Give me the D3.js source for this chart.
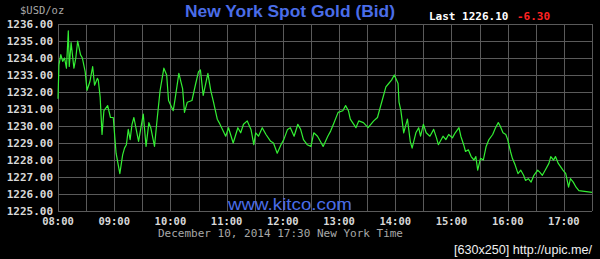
<!DOCTYPE html>
<html><head><meta charset="utf-8">
<script src="https://cdn.jsdelivr.net/npm/d3@7"></script>
<style>
html,body{margin:0;padding:0;background:#000;}
svg{display:block;}
</style></head>
<body>
<svg id="c" width="600" height="259"></svg>
<script>
const times = ["08:00","08:01","08:03","08:05","08:07","08:09","08:11","08:12","08:14","08:17","08:19","08:21","08:24","08:26","08:29","08:31","08:34","08:37","08:39","08:42","08:43","08:45","08:47","08:49","08:53","08:56","08:59",
"09:02","09:06","09:09","09:11","09:13","09:15","09:17","09:19","09:21","09:26","09:31","09:34","09:37","09:39","09:43","09:46","09:49","09:53","09:56","09:58",
"10:03","10:05","10:09","10:13","10:15","10:18","10:23","10:27","10:30","10:32","10:35","10:40","10:43","10:46","10:50","10:52","10:59",
"11:02","11:07","11:12","11:15","11:18","11:22","11:26","11:29","11:31","11:34","11:38","11:42","11:47","11:50","11:54","11:58",
"12:01","12:05","12:08","12:12","12:16","12:19","12:22","12:26","12:30","12:33","12:37","12:40","12:43","12:48","12:51","12:54","12:59",
"13:04","13:07","13:10","13:12","13:18","13:21","13:26","13:31","13:37","13:41","13:46","13:50","13:53","13:56","13:59",
"14:03","14:04","14:06","14:09","14:13","14:16","14:18","14:22","14:25","14:27","14:30","14:33","14:37","14:41","14:44","14:46","14:51","14:54","14:57",
"15:01","15:04","15:08","15:10","15:13","15:15","15:18","15:21","15:24","15:26","15:28","15:31","15:34","15:37","15:40","15:44","15:47","15:50","15:52","15:55","15:58",
"16:00","16:03","16:05","16:08","16:11","16:14","16:17","16:19","16:22","16:25","16:28","16:32","16:34","16:37","16:40","16:44","16:46","16:49","16:51","16:54","16:59",
"17:02","17:05","17:07","17:10","17:13","17:16","17:30"];
const prices = [1231.6,1233.6,1234.2,1233.8,1234.0,1233.4,1235.6,1233.5,1234.9,1233.4,1234.0,1235.0,1234.2,1234.0,1233.2,1232.1,1232.6,1233.5,1232.4,1232.8,1232.7,1231.7,1229.5,1230.9,1231.2,1230.5,1230.5,
1228.4,1227.2,1228.3,1228.7,1228.9,1229.8,1229.2,1230.1,1230.5,1229.1,1230.7,1228.8,1230.2,1229.9,1228.8,1230.5,1232.1,1233.4,1233.0,1231.5,
1230.9,1231.6,1233.1,1232.2,1230.8,1231.4,1231.5,1232.5,1233.2,1233.3,1231.8,1233.1,1232.1,1231.4,1230.4,1230.2,1229.4,
1229.9,1229.0,1229.9,1229.6,1230.1,1230.3,1229.8,1228.9,1229.6,1229.4,1229.9,1229.5,1229.1,1229.0,1228.4,1228.9,
1229.2,1229.8,1229.9,1229.4,1230.1,1229.8,1229.2,1228.9,1228.8,1229.6,1229.4,1229.1,1228.8,1229.4,1229.7,1230.1,1230.8,
1230.9,1231.2,1230.9,1230.4,1229.9,1230.3,1230.2,1229.9,1230.3,1230.5,1231.5,1232.3,1232.5,1232.7,1233.0,
1232.5,1231.4,1230.9,1229.6,1230.4,1229.1,1228.7,1229.6,1229.9,1229.4,1230.1,1229.6,1229.4,1229.8,1229.3,1228.9,1229.4,1229.2,1229.5,
1229.3,1229.6,1229.9,1229.4,1228.9,1228.5,1228.6,1228.2,1228.0,1228.2,1227.4,1228.1,1228.0,1228.8,1229.2,1229.5,1229.9,1230.2,1230.0,1229.6,1229.5,
1229.2,1228.5,1228.1,1227.7,1227.2,1227.4,1227.1,1226.8,1226.9,1226.7,1227.1,1227.4,1227.3,1227.1,1227.4,1227.8,1228.2,1228.0,1228.2,1227.8,1227.4,
1227.2,1226.4,1226.9,1226.7,1226.4,1226.2,1226.1];
const yTicks = [1225,1226,1227,1228,1229,1230,1231,1232,1233,1234,1235,1236];
const hourLabels = ["08:00","09:00","10:00","11:00","12:00","13:00","14:00","15:00","16:00","17:00"];
const domainTimes = ["08:00","17:30"];
const titleText = "New York Spot Gold (Bid)";
const unitText = "$USD/oz";
const lastText = "Last 1226.10";
const changeText = "-6.30";
const dateText = "December 10, 2014 17:30 New York Time";
const siteText = "www.kitco.com";
const stampText = "[630x250] http://upic.me/";

const parse = s => d3.timeParse("%Y-%m-%d %H:%M")("2014-12-10 " + s);
const data = times.map((t,i)=>({t:parse(t), v:prices[i]}));

const svg = d3.select("#c");
svg.append("rect").attr("width",600).attr("height",259).attr("fill","#000");

const x = d3.scaleTime().domain(domainTimes.map(parse)).range([58,592]);
const y = d3.scaleLinear().domain([1225,1236]).range([211,24]);

const mono = "'DejaVu Sans Mono', 'Liberation Mono', monospace";
const grid = svg.append("g").attr("shape-rendering","crispEdges");
const halfHours = d3.timeMinute.every(30).range(parse("08:00"), d3.timeMinute.offset(parse("17:30"),1));
grid.selectAll("line.v").data(halfHours).join("line")
  .attr("x1",d=>Math.round(x(d))+0.5).attr("x2",d=>Math.round(x(d))+0.5)
  .attr("y1",y(1236)).attr("y2",y(1225))
  .attr("stroke","#5a5a5a").attr("stroke-width",1);
grid.selectAll("line.h").data(yTicks).join("line")
  .attr("x1",x(parse("08:00"))).attr("x2",x(parse("17:30")))
  .attr("y1",d=>Math.round(y(d))+0.5).attr("y2",d=>Math.round(y(d))+0.5)
  .attr("stroke","#5a5a5a").attr("stroke-width",1);

// y labels
svg.append("g").selectAll("text").data(yTicks).join("text")
  .attr("x",53).attr("y",d=>y(d)+4)
  .attr("text-anchor","end")
  .attr("font-family",mono).attr("font-weight","bold").attr("font-size",11)
  .attr("fill","#d8d8d8")
  .text(d=>d3.format(".2f")(d));

// x labels
svg.append("g").selectAll("text").data(hourLabels).join("text")
  .attr("x",d=>x(parse(d))).attr("y",224.5)
  .attr("text-anchor","middle")
  .attr("font-family",mono).attr("font-weight","bold").attr("font-size",10.5)
  .attr("fill","#d8d8d8")
  .text(d=>d);

// line
const line = d3.line().x(d=>x(d.t)).y(d=>y(d.v));
svg.append("path").datum(data).attr("d",line)
  .attr("fill","none").attr("stroke","#33ee33").attr("stroke-width",1.2)
  .attr("stroke-linejoin","round");

// texts
svg.append("text").attr("x",20).attr("y",14)
  .attr("font-family",mono).attr("font-size",10.5).attr("fill","#a8a8a8")
  .text(unitText);
svg.append("text").attr("x",185).attr("y",17)
  .attr("font-family","'Liberation Sans', Arial, sans-serif").attr("font-weight","bold")
  .attr("font-size",17).attr("fill","#4a6de8")
  .attr("textLength",210).attr("lengthAdjust","spacingAndGlyphs")
  .text(titleText);
svg.append("text").attr("x",429).attr("y",20)
  .attr("font-family",mono).attr("font-weight","bold").attr("font-size",11)
  .attr("fill","#ffffff").text(lastText);
svg.append("text").attr("x",517).attr("y",20)
  .attr("font-family",mono).attr("font-weight","bold").attr("font-size",11)
  .attr("fill","#ff2222").text(changeText);
svg.append("text").attr("x",228).attr("y",210)
  .attr("font-family","'Liberation Sans', Arial, sans-serif")
  .attr("font-size",16.5).attr("fill","#4a6de8")
  .attr("textLength",124).attr("lengthAdjust","spacingAndGlyphs")
  .text(siteText);
svg.append("text").attr("x",280.5).attr("y",236.5)
  .attr("text-anchor","middle")
  .attr("font-family",mono).attr("font-size",10.5).attr("fill","#a8a8a8")
  .attr("textLength",245).attr("lengthAdjust","spacingAndGlyphs")
  .text(dateText);
svg.append("text").attr("x",454).attr("y",254)
  .attr("font-family","'Liberation Sans Narrow', 'Liberation Sans', sans-serif").attr("font-size",13)
  .attr("fill","#f0f0f0")
  .attr("textLength",138).attr("lengthAdjust","spacingAndGlyphs")
  .text(stampText);
</script>
</body></html>
